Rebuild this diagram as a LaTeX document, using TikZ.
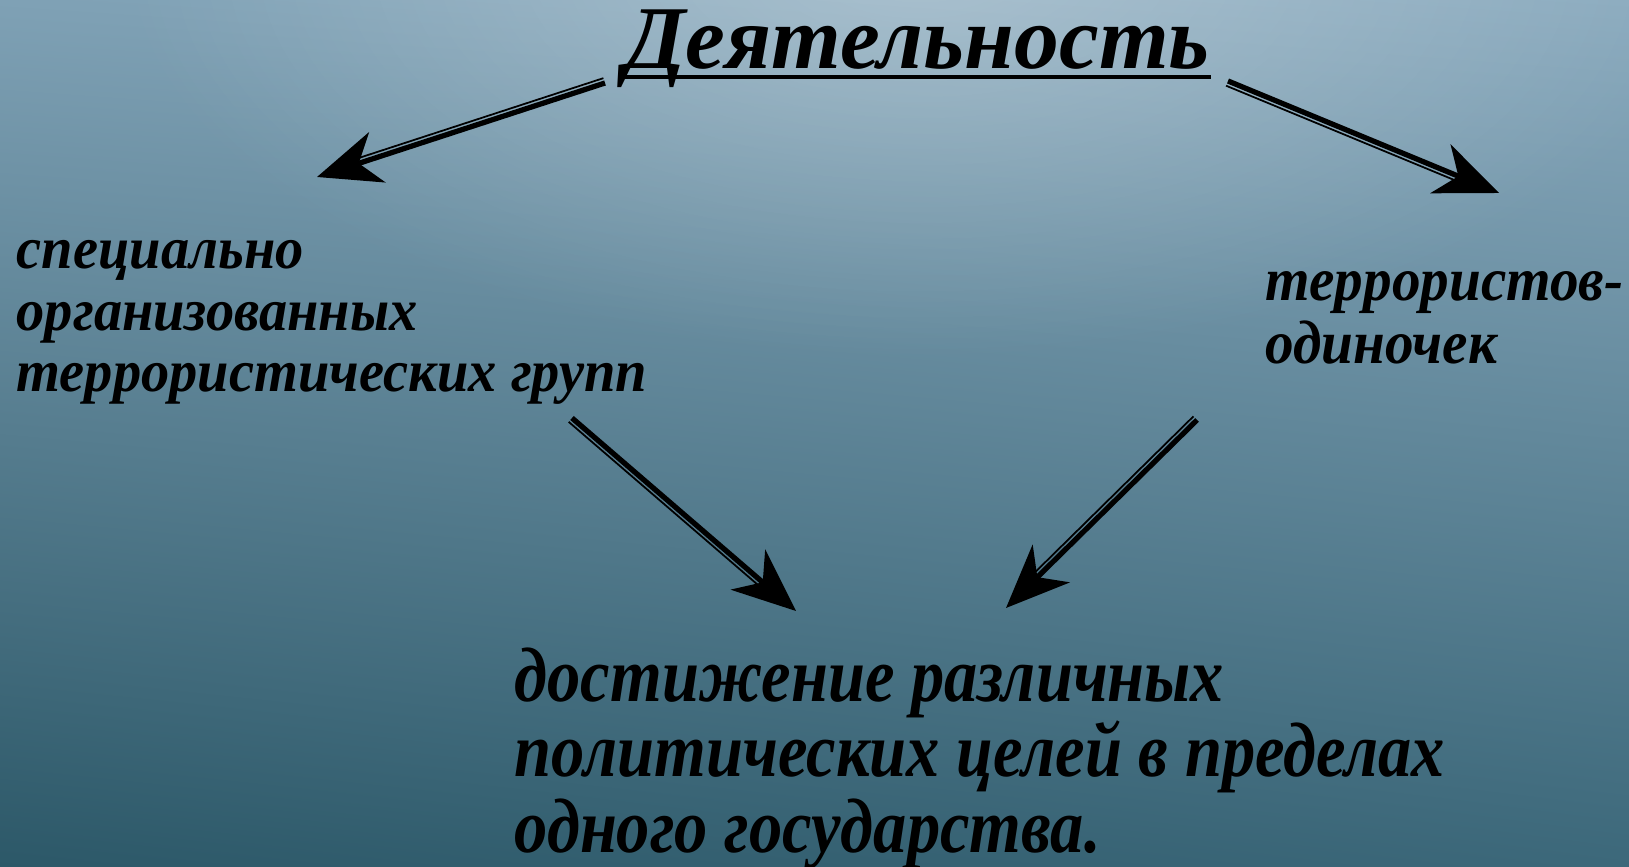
\documentclass[tikz,border=0pt]{standalone}
\usepackage{fontspec}
\setmainfont{Liberation Serif}
\usetikzlibrary{arrows.meta,calc,fadings,shadings,positioning}

\definecolor{bgUL}{RGB}{127,161,181}
\definecolor{bgUR}{RGB}{138,170,190}
\definecolor{bgLL}{RGB}{44,88,104}
\definecolor{bgLR}{RGB}{60,104,122}

\tikzfading[name=glow, inner color=transparent!70, outer color=transparent!100]

\tikzset{
  lbl/.style={inner sep=0pt, align=left, text=black, font=\bfseries\itshape},
  bigarrow/.style={line width=1.5pt, -{Stealth[length=18pt, width=15pt, inset=5.5pt]}},
  thinline/.style={line width=0.5pt, shorten >=10pt},
}

% thick arrow with a thin companion line on its right-hand side
\newcommand\twinarrow[2]{%
  \draw[bigarrow] (#1) -- (#2);
  \draw[thinline] ($(#1)!1.45pt!-90:(#2)$) -- ($(#2)!1.45pt!90:(#1)$);
}

\begin{document}
\begin{tikzpicture}
    \useasboundingbox (0,0) rectangle (16.29,-8.67);
    % background
    \shade[upper left=bgUL, upper right=bgUR, lower left=bgLL, lower right=bgLR]
        (0,0) rectangle (16.29,-8.67);
    \begin{scope}
        \clip (0,0) rectangle (16.29,-8.67);
        \fill[white, path fading=glow] (9.2,0.4) ellipse (8 and 4);
    \end{scope}

    % texts
    \node[lbl, anchor=base west, font=\bfseries\itshape\fontsize{25.5}{25.5}\selectfont] (title) at (6.24,-0.69) {Деятельность};
    \draw[line width=1.1pt] ([yshift=-2.2pt]title.base west) -- ([yshift=-2.2pt]title.base east);

    \node[lbl, anchor=base west, font=\bfseries\itshape\fontsize{17}{17.6}\selectfont\addfontfeature{FakeStretch=0.945}] (left) at (0.16,-3.92)
        {специально\\организованных\\террористических групп};
    \node[lbl, anchor=base west, font=\bfseries\itshape\fontsize{17.5}{18.2}\selectfont\addfontfeature{FakeStretch=0.93}] (right) at (12.65,-3.64)
        {террористов-\\одиночек};
    \node[lbl, anchor=base west, font=\bfseries\itshape\fontsize{22}{21.4}\selectfont\addfontfeature{FakeStretch=0.86}] (goal) at (5.14,-8.52)
        {достижение различных\\политических целей в пределах\\одного государства.};

    % arrow ends
    \coordinate (a1s) at (6.05,-0.83);
    \coordinate (a1e) at (3.17,-1.77);
    \coordinate (a2s) at (12.28,-0.81);
    \coordinate (a2e) at (14.99,-1.93);
    \coordinate (a3s) at (5.72,-4.18);
    \coordinate (a3e) at (7.96,-6.11);
    \coordinate (a4s) at (11.97,-4.20);
    \coordinate (a4e) at (10.06,-6.08);

    \twinarrow{a1s}{a1e}
    \twinarrow{a2s}{a2e}
    \twinarrow{a3s}{a3e}
    \twinarrow{a4s}{a4e}
\end{tikzpicture}
\end{document}
